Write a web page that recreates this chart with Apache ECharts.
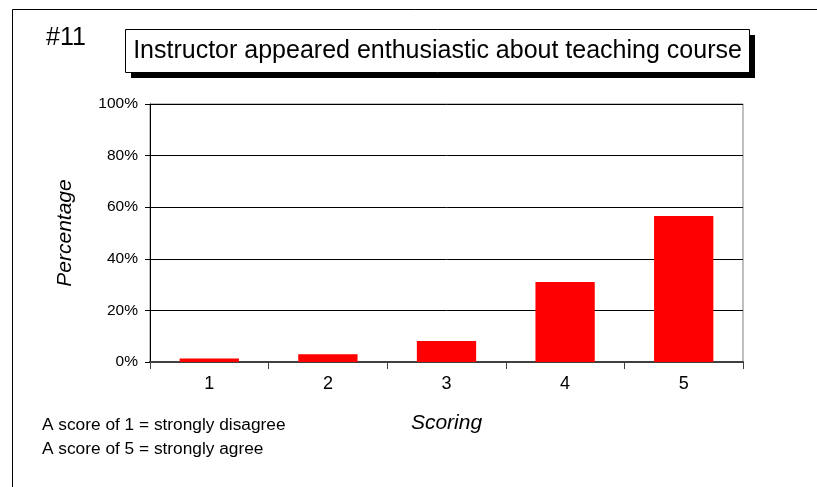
<!DOCTYPE html>
<html>
<head>
<meta charset="utf-8">
<script src="https://cdn.jsdelivr.net/npm/echarts@6/dist/echarts.min.js"></script>
<style>
  html, body { margin: 0; padding: 0; background: #fff; }
  #chart { width: 817px; height: 487px; }
</style>
</head>
<body>
<div id="chart"></div>
<script>
// data
const scores = ['1', '2', '3', '4', '5']
const percentages = [1.4, 3.0, 8.1, 31.0, 56.6]
const yTicks = [0, 20, 40, 60, 80, 100]

const questionNo = '#11'
const heading = 'Instructor appeared enthusiastic about teaching course'
const notes = ['A score of 1 = strongly disagree', 'A score of 5 = strongly agree']

const font = '"Liberation Sans", Arial, sans-serif'

const chart = echarts.init(document.getElementById('chart'))

chart.setOption({
  animation: false,
  backgroundColor: '#fff',
  textStyle: { fontFamily: font },
  graphic: [
    // outer frame (only top and left visible)
    { type: 'line', shape: { x1: 12.5, y1: 9.5, x2: 817, y2: 9.5 }, style: { stroke: '#000', lineWidth: 1 } },
    { type: 'line', shape: { x1: 12.5, y1: 9.5, x2: 12.5, y2: 487 }, style: { stroke: '#000', lineWidth: 1 } },
    // title box with drop shadow
    { type: 'rect', shape: { x: 131, y: 35, width: 624, height: 43 }, style: { fill: '#000' } },
    { type: 'rect', shape: { x: 125.5, y: 29.5, width: 624, height: 43 }, style: { fill: '#fff', stroke: '#000', lineWidth: 1 } },
    {
      type: 'text', x: 437.5, y: 51,
      style: { text: heading, font: '25px ' + font, fill: '#000', align: 'center', verticalAlign: 'middle' }
    },
    {
      type: 'text', x: 46, y: 38,
      style: { text: questionNo, font: '25px ' + font, fill: '#000', align: 'left', verticalAlign: 'middle' }
    },
    {
      type: 'text', x: 42, y: 425,
      style: { text: notes[0], font: '17.3px ' + font, fill: '#000', align: 'left', verticalAlign: 'middle' }
    },
    {
      type: 'text', x: 42, y: 449,
      style: { text: notes[1], font: '17.3px ' + font, fill: '#000', align: 'left', verticalAlign: 'middle' }
    }
  ],
  grid: {
    left: 150,
    right: 74,
    top: 104,
    bottom: 125,
    show: true,
    borderColor: '#808080',
    borderWidth: 1,
    backgroundColor: 'transparent'
  },
  xAxis: {
    type: 'category',
    data: scores,
    name: 'Scoring',
    nameLocation: 'middle',
    nameGap: 51,
    nameTextStyle: { fontSize: 21, fontStyle: 'italic', color: '#000', fontFamily: font },
    axisLine: { lineStyle: { color: '#404040', width: 2 } },
    axisTick: { show: true, length: 7, lineStyle: { color: '#404040' } },
    axisLabel: { margin: 13, fontSize: 18, color: '#000' },
    splitLine: { show: false }
  },
  yAxis: {
    type: 'value',
    min: yTicks[0],
    max: yTicks[yTicks.length - 1],
    interval: 20,
    name: 'Percentage',
    nameLocation: 'middle',
    nameGap: 74,
    nameRotate: 90,
    nameTextStyle: { fontSize: 21, fontStyle: 'italic', color: '#000', fontFamily: font },
    axisLine: { show: true, lineStyle: { color: '#000', width: 1 } },
    axisTick: { show: true, length: 5, lineStyle: { color: '#000' } },
    axisLabel: { margin: 12, fontSize: 15.5, color: '#000', formatter: '{value}%' },
    splitLine: { show: true, lineStyle: { color: '#000', width: 1 } }
  },
  series: [
    {
      type: 'bar',
      data: percentages,
      barWidth: '50%',
      itemStyle: { color: '#ff0000' }
    }
  ]
})
</script>
</body>
</html>
